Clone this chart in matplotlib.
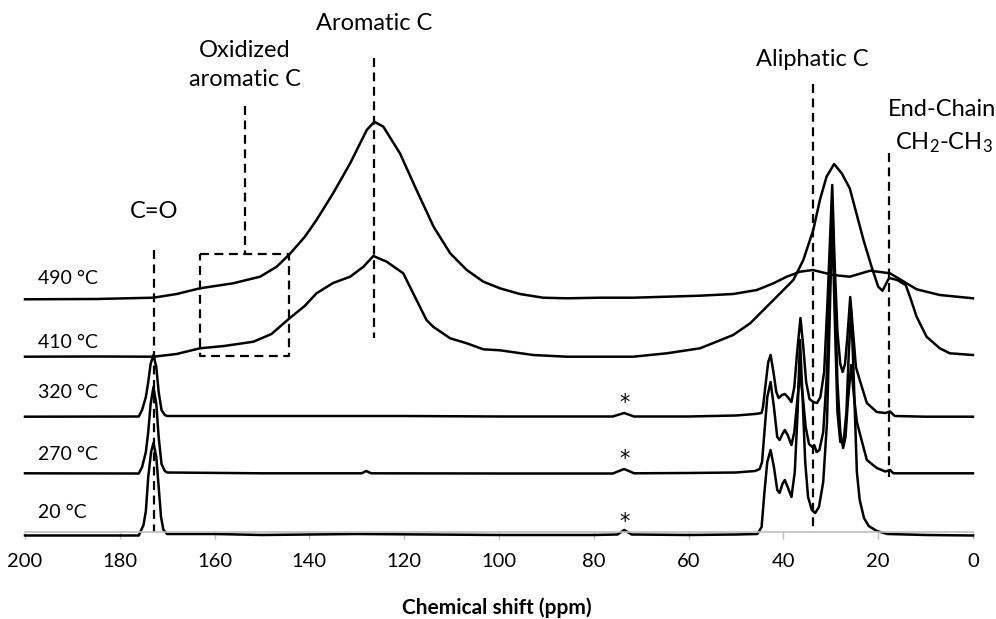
import matplotlib
matplotlib.use("Agg")
import matplotlib.pyplot as plt

# -------------------------
# DATA (ppm, intensity, stacked offsets included)
# -------------------------

ppm_20 = [200, 176, 175, 174.5, 174, 173.4, 172.9, 172.3, 171.8, 171.3, 170.8, 170,
          160, 150, 130, 100, 80, 75, 73.6, 72, 60, 50, 45.5, 44.6, 44.0, 43.4,
          42.7, 42.0, 41.3, 40.8, 40.2, 39.7, 39.1, 38.3, 37.6, 37.0, 36.5, 36.0,
          35.4, 34.8, 34.0, 33.3, 32.5, 31.6, 30.8, 30.2, 29.7, 29.2, 28.6, 28.0,
          27.3, 26.7, 26.2, 25.7, 25.2, 24.5, 23.9, 23.0, 22.0, 20.3, 18, 10, 0]
int_20 = [-3.5, -3.5, 7, 21, 55, 80, 89, 75, 45, 15, 2, -2,
          -2, -3, -2, -3, -3, -2.5, 2, -2.5, -3, -2.5, -2, 5, 40, 70,
          82, 65, 42, 39, 48, 52, 45, 35, 60, 120, 192, 140,
          70, 35, 22, 19, 25, 50, 110, 220, 317, 220, 120, 90,
          90, 120, 180, 222, 160, 60, 32, 14, 6, 1, -2, -3, -3.5]

ppm_270 = [200, 176, 175.3, 174.5, 174, 173.5, 172.9, 172.3, 171.8, 171.2, 170.5, 170,
           150, 129, 128, 127, 100, 76, 73.6, 71.5, 60, 50, 46, 45, 44.5, 44.0,
           43.4, 42.7, 42.0, 41.3, 40.8, 40.2, 39.7, 39.1, 38.3, 37.7, 37.1, 36.5,
           35.9, 35.3, 34.6, 33.9, 33.5, 33.0, 32.4, 31.6, 30.8, 30.2, 29.7, 29.2,
           28.6, 28.0, 27.4, 26.9, 26.4, 25.7, 25.1, 24.5, 23.9, 22.4, 20.3, 18.5,
           17.5, 16.8, 10, 0]
int_270 = [58.7, 58.5, 65, 80, 100, 128, 145, 128, 95, 68, 61, 59.5,
           58.7, 58.7, 61, 58.7, 58.5, 58.5, 63, 58.7, 59, 59.5, 61, 63, 70, 100,
           135, 150, 125, 95, 92, 98, 102, 97, 87, 100, 130, 159,
           135, 105, 88, 85, 87, 80, 82, 100, 160, 260, 332, 250,
           150, 100, 84, 95, 130, 167, 135, 110, 99, 72, 64, 60.5,
           62, 58.7, 58.7, 58.7]

ppm_320 = [200, 176, 175.3, 174.5, 174, 173.5, 172.9, 172.3, 171.8, 171.2, 170.5, 170,
           150, 120, 100, 76, 73.6, 71.5, 60, 50, 46, 44.6, 44.3, 43.7, 43.2,
           42.7, 42.1, 41.5, 41.0, 40.3, 39.7, 39.1, 38.3, 37.7, 37.1, 36.4, 35.8,
           35.2, 34.5, 33.7, 32.9, 32.2, 31.4, 30.7, 30.1, 29.7, 29.2, 28.6, 28.0,
           27.5, 27.0, 26.5, 25.9, 25.3, 24.7, 23.9, 22.4, 20.3, 18.5, 17.5, 16.5,
           10, 0]
int_320 = [115.3, 115.5, 122, 135, 150, 168, 177, 165, 140, 122, 117, 116,
           116, 116, 115.5, 115.5, 119, 115.5, 115.5, 116.5, 118, 119, 125, 150, 170,
           177, 160, 140, 134, 137, 138, 135, 130, 145, 180, 214, 185,
           150, 133, 130, 129, 135, 160, 230, 300, 347, 270, 200, 168,
           160, 168, 195, 235, 200, 165, 152, 129, 120, 119, 120.5, 116,
           115.3, 115.3]

ppm_410 = [200, 185, 172.9, 168, 163.1, 158, 151.8, 148, 144.2, 141, 138.5, 135,
           131.4, 128.6, 126.5, 123.7, 120.2, 117.4, 115.3, 113.9, 110.3, 106.8,
           103.3, 99.8, 92.8, 85.7, 71.7, 64.6, 57.6, 54.1, 50.6, 47.0, 44.9, 41.4,
           37.9, 35.8, 33.7, 32.3, 30.9, 29.3, 27.7, 26.0, 24.6, 23.1, 21.4, 20.0,
           19.1, 17.7, 16.0, 14.2, 13.3, 11.9, 9.8, 7.0, 4.9, 0]
int_410 = [175.3, 175.5, 175.3, 178, 183.7, 186, 190.3, 198, 213.7, 226, 238.7, 249,
           255.3, 265.3, 276, 270.3, 258.7, 232, 212, 205.3, 193.7, 188.7,
           182.7, 181.7, 177, 175.3, 175.3, 178.7, 183.7, 190.3, 197, 208.7, 218.7, 235.3,
           252, 272, 302, 332, 355.3, 368, 358.7, 343.7, 318.7, 292, 265.3, 245.3,
           241.3, 254, 252, 247, 235.3, 215.3, 195.3, 183.7, 178.7, 177]

ppm_490 = [200, 185, 172.9, 168, 163.1, 156.1, 150.4, 146.9, 144.2, 141, 138.5, 135.0,
           131.4, 127.9, 126.3, 124.4, 120.9, 117.4, 113.8, 110.3, 106.8, 103.3,
           99.8, 95.6, 90.7, 85.7, 78.7, 71.7, 64.6, 57.6, 50.6, 45.6, 42.1, 39.3,
           36.5, 33.8, 29.5, 26.0, 21.7, 17.5, 14.0, 11.9, 7.0, 0]
int_490 = [232.7, 233, 234.3, 238, 243.7, 248.7, 255.3, 265.3, 277.7, 295, 312, 338.7,
           368.7, 402, 410.3, 405.3, 378.7, 342, 305.3, 278.7, 262, 250.3,
           243.7, 238, 234.3, 233.7, 234.3, 234.3, 235.3, 236.3, 238, 242, 248.7, 255.3,
           260.3, 262, 257, 255.3, 261.3, 258.7, 248.7, 242.7, 237, 233.7]

temperatures = ["20 °C", "270 °C", "320 °C", "410 °C", "490 °C"]
label_heights = [19, 78, 139, 190, 254]

# chemical shifts marked with dashed lines
shift_co = 172.8
shift_oxidized = 153.6
oxidized_box = (163.0, 144.2)
shift_aromatic = 126.3
shift_aliphatic = 33.8
shift_endchain = 17.7
spinning_sideband = 73.6

# -------------------------
# STYLE
# -------------------------
plt.rcParams["font.family"] = ["Lato", "DejaVu Sans"]
plt.rcParams["mathtext.default"] = "regular"

fig = plt.figure(figsize=(9.96, 6.19), dpi=100)
ax = fig.add_axes([25 / 996, 87 / 619, 948 / 996, 532 / 619])

# -------------------------
# SPECTRA
# -------------------------
for x, y in [(ppm_20, int_20), (ppm_270, int_270), (ppm_320, int_320),
             (ppm_410, int_410), (ppm_490, int_490)]:
    ax.plot(x, y, color="black", lw=1.8, clip_on=False, solid_joinstyle="round")

for name, h in zip(temperatures, label_heights):
    ax.text(197.3, h, name, fontsize=14, ha="left", va="center")

# spinning sidebands
for base in [int_20[0], int_270[0], int_320[0]]:
    ax.text(spinning_sideband, base + 14, "*", fontsize=15, ha="center", va="center",
            family="DejaVu Sans")

# -------------------------
# ANNOTATIONS
# -------------------------
dash = dict(color="black", lw=1.6, linestyle=(0, (4, 2.5)))

ax.plot([shift_co, shift_co], [282, 0], **dash)
ax.text(shift_co, 320, "C=O", fontsize=17, ha="center", va="center")

ax.plot([shift_oxidized, shift_oxidized], [426, 278], **dash)
ax.plot([oxidized_box[0], oxidized_box[1], oxidized_box[1], oxidized_box[0], oxidized_box[0]],
        [278, 278, 176, 176, 278], **dash)
ax.text(shift_oxidized, 467, "Oxidized\naromatic C", fontsize=17, ha="center",
        va="center", linespacing=1.5)

ax.plot([shift_aromatic, shift_aromatic], [474, 194], **dash)
ax.text(shift_aromatic, 508, "Aromatic C", fontsize=17, ha="center", va="center")

ax.plot([shift_aliphatic, shift_aliphatic], [448, 0], **dash)
ax.text(shift_aliphatic, 473, "Aliphatic C", fontsize=17, ha="center", va="center")

ax.plot([shift_endchain, shift_endchain], [379, 55], **dash)
ax.text(6.5, 423, "End-Chain", fontsize=17, ha="center", va="center")
ax.text(6.2, 389, "CH$_2$-CH$_3$", fontsize=17, ha="center", va="center")

# -------------------------
# AXES
# -------------------------
ax.set_xlim(200, 0)
ax.set_ylim(0, 532)
ax.set_xticks(range(0, 201, 20))
ax.set_yticks([])
ax.patch.set_alpha(0)
for side in ["top", "left", "right"]:
    ax.spines[side].set_visible(False)
ax.spines["bottom"].set_color("#bfbfbf")
ax.spines["bottom"].set_linewidth(1.2)
ax.tick_params(axis="x", direction="out", length=5, width=1, color="#bfbfbf",
               labelsize=14.5, pad=10)

fig.text(497 / 996, 1 - 608 / 619, "Chemical shift (ppm)", fontsize=15,
         fontweight="bold", ha="center", va="center")

fig.savefig("out.png", dpi=100)
